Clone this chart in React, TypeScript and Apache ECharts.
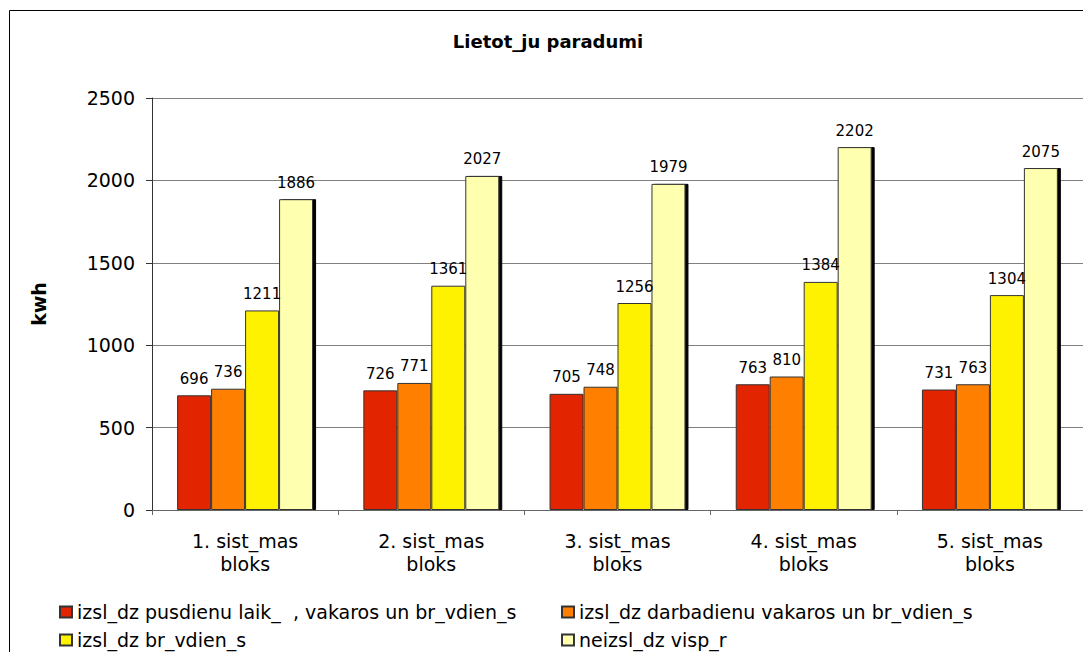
import React, { useEffect, useRef } from "react";
import * as echarts from "echarts";

const categories = [
  "1. sist_mas\nbloks",
  "2. sist_mas\nbloks",
  "3. sist_mas\nbloks",
  "4. sist_mas\nbloks",
  "5. sist_mas\nbloks",
];
const seriesNames = [
  "izsl_dz pusdienu laik_  , vakaros un br_vdien_s",
  "izsl_dz darbadienu vakaros un br_vdien_s",
  "izsl_dz br_vdien_s",
  "neizsl_dz visp_r",
];
const redValues = [696, 726, 705, 763, 731];
const orangeValues = [736, 771, 748, 810, 763];
const yellowValues = [1211, 1361, 1256, 1384, 1304];
const paleValues = [1886, 2027, 1979, 2202, 2075];
const yTicks = { min: 0, max: 2500, interval: 500 };
const colors = ["#E32400", "#FF8000", "#FFF200", "#FFFFB0"];
const title = "Lietot_ju paradumi";
const yName = "kwh";

const FONT = "'DejaVu Sans', Verdana, sans-serif";

export default function App() {
  const ref = useRef<HTMLDivElement>(null);
  useEffect(() => {
    if (!ref.current) return;
    const chart = echarts.init(ref.current, undefined, { renderer: "svg" });
    const values = [redValues, orangeValues, yellowValues, paleValues];
    const legendPos = [
      { left: 59, top: 602 },
      { left: 561, top: 602 },
      { left: 59, top: 630 },
      { left: 561, top: 630 },
    ];
    chart.setOption({
      animation: false,
      backgroundColor: "#ffffff",
      title: {
        text: title,
        left: 548,
        textAlign: "center",
        top: 32,
        padding: 0,
        textStyle: { fontFamily: FONT, fontSize: 18, fontWeight: "bold", color: "#000" },
      },
      graphic: [
        {
          type: "rect",
          shape: { x: 9.5, y: 10.5, width: 1078, height: 700 },
          style: { fill: "none", stroke: "#000", lineWidth: 1 },
          silent: true,
          z: -1,
        },
      ],
      legend: seriesNames.map((n, i) => ({
        data: [n],
        left: legendPos[i].left,
        top: legendPos[i].top,
        padding: 0,
        itemWidth: 12,
        itemHeight: 11,
        icon: "rect",
        textStyle: { fontFamily: FONT, fontSize: 19, color: "#000", lineHeight: 20 },
      })),
      grid: { left: 152, top: 98, width: 933.5, height: 412, containLabel: false },
      xAxis: {
        type: "category",
        data: categories,
        axisLine: { show: true, lineStyle: { color: "#666", width: 1 } },
        axisTick: { show: true, length: 5, lineStyle: { color: "#666" } },
        axisLabel: {
          fontFamily: FONT,
          fontSize: 19,
          lineHeight: 23,
          color: "#000",
          margin: 19,
          interval: 0,
        },
        splitLine: { show: false },
      },
      yAxis: {
        type: "value",
        min: yTicks.min,
        max: yTicks.max,
        interval: yTicks.interval,
        name: yName,
        nameLocation: "middle",
        nameGap: 104,
        nameRotate: 90,
        nameTextStyle: { fontFamily: FONT, fontSize: 19, fontWeight: "bold", color: "#000" },
        axisLine: { show: true, lineStyle: { color: "#333", width: 1 } },
        axisTick: { show: true, length: 6, lineStyle: { color: "#333" } },
        axisLabel: {
          fontFamily: FONT,
          fontSize: 19,
          color: "#000",
          margin: 17,
          formatter: (v: number) => String(v),
        },
        splitLine: { show: true, lineStyle: { color: "#808080", width: 1 } },
      },
      series: seriesNames.map((n, i) => ({
        name: n,
        type: "bar",
        data: values[i],
        barGap: "0%",
        barCategoryGap: "27%",
        itemStyle: {
          color: colors[i],
          borderColor: "#333",
          borderWidth: 1,
          ...(i === 3
            ? { shadowColor: "#000", shadowOffsetX: 3, shadowOffsetY: 0, shadowBlur: 0 }
            : {}),
        },
        label: {
          show: true,
          position: "top",
          distance: 9,
          fontFamily: FONT,
          fontSize: 15,
          fontWeight: "normal",
          color: "#000",
          textBorderWidth: 0,
          textShadowBlur: 0,
        },
      })),
    });
    return () => chart.dispose();
  }, []);
  return (
    <div
      ref={ref}
      style={{ position: "fixed", left: 0, top: 0, width: 1083, height: 652, background: "#fff" }}
    />
  );
}
